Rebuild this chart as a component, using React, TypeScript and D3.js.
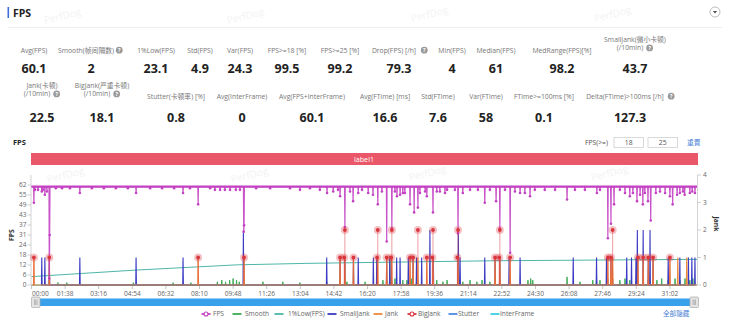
import React from "react";
import * as d3 from "d3";

// ---------------- DATA ----------------
const T_END = 1941; // seconds shown on the axis
const FPS_BASE = 61;

const xTickLabels = ["00:00","01:38","03:16","04:54","06:32","08:10","09:48","11:26","13:04","14:42","16:20","17:58","19:36","21:14","22:52","24:30","26:08","27:46","29:24","31:02"];
const fpsTickLabels = ["0","6","12","18","24","31","37","43","49","55","62"];
const fpsTickStep = 6.2;
const fpsAxisMax = 68.2;
const jankTickLabels = ["0","1","2","3","4"];

// major FPS drops [sec, fps]
const fpsDips: [number, number][] = [
  [7,51],[30,58],[39,56],[52,4],[53,31],[141,57],[305,57],[442,57],[486,50],[619,33],[620,37],
  [862,57],[900,55],[914,36],[938,52],[996,56],[1010,50],[1036,27],[1051,35],[1066,55],[1083,57],
  [1104,50],[1116,45],[1127,48],[1153,55],[1171,45],[1206,57],[1244,32],[1258,57],[1322,51],
  [1355,52],[1366,35],[1396,20],[1425,57],[1454,55],[1562,53],[1649,57],[1681,29],[1690,38],
  [1699,50],[1745,55],[1766,52],[1783,50],[1798,52],[1806,40],[1862,55],[1870,50],[1905,56],[1920,57]
];
// small FPS wobbles near the top
const fpsMinor: [number, number][] = [
  [10,59],[19,59],[33,59],[45,58],[71,60],[89,60],[112,60],[176,60],[211,60],[246,60],[281,60],
  [346,60],[381,60],[416,60],[462,60],[521,60],[535,59],[550,59],[564,59],[579,59],[596,59],[608,59],
  [655,60],[696,60],[754,60],[783,59],[812,60],[841,59],[880,58],[894,59],[929,58],[953,57],[964,59],
  [982,57],[1022,58],[1060,58],[1075,56],[1089,57],[1133,57],[1148,58],[1182,58],[1191,58],[1212,59],
  [1235,59],[1279,59],[1302,59],[1337,59],[1381,59],[1410,58],[1439,57],[1468,59],[1497,59],[1527,59],
  [1585,59],[1614,59],[1658,59],[1716,59],[1731,57],[1754,57],[1775,56],[1789,57],[1821,57],[1833,58],
  [1848,57],[1883,56],[1891,57],[1900,58],[1927,58],[1935,57]
];
const lowOnePct: [number, number][] = [
  [0,5.2],[150,7.2],[308,9.3],[491,11.3],[600,12.5],[800,13.4],[1000,14.0],[1337,15.0],[1600,15.4],[1941,15.9]
];
const smallJank: [number, number][] = [
  [30,1],[39,1],[52,1],[141,1],[305,1],[442,1],[618,2],[861,1],[900,1],[914,1],[939,1],[953,1],[997,1],
  [1007,1],[1036,1],[1045,1],[1065,1],[1075,1],[1099,1],[1113,1],[1123,1],[1138,1],[1162,2],[1172,1],
  [1245,2],[1250,1],[1322,1],[1352,1],[1366,1],[1393,1],[1425,1],[1580,1],[1648,1],[1677,1],[1690,1],
  [1736,1],[1750,1],[1763,1],[1767,2],[1784,2],[1799,1],[1804,2],[1813,1],[1857,1],[1891,1],[1916,1],
  [1926,1],[1935,1]
];
const jank: [number, number][] = [
  [7,1],[52,1],[486,1],[620,1],[900,1],[914,1],[939,1],[1010,1],[1036,1],[1051,1],[1104,1],[1113,1],
  [1127,1],[1153,1],[1171,1],[1244,1],[1352,1],[1366,1],[1396,1],[1681,1],[1690,1],[1695,1],[1769,1],
  [1784,1],[1799,1],[1813,1],[1862,1],[1885,1],[1911,1]
];
const bigJank: [number, number][] = [
  [7,1],[52,1],[486,1],[620,1],[900,1],[912,1],[914,2],[939,1],[1008,1],[1010,2],[1036,1],[1049,1],
  [1051,2],[1104,1],[1113,1],[1127,2],[1153,1],[1169,1],[1171,2],[1242,1],[1244,2],[1352,1],[1364,1],
  [1366,2],[1396,1],[1681,1],[1690,1],[1695,2],[1769,1],[1784,1],[1799,1],[1813,1],[1862,1]
];
const smooth: [number, number][] = [
  [77,1.5],[103,1.5],[297,1.5],[413,1.5],[465,1.5],[542,2],[555,3],[566,2],[578,3],[588,4],[598,3],[606,2],
  [675,2],[733,2],[783,1.5],[861,2],[900,3],[920,2],[973,2],[1007,3],[1025,3],[1045,18],[1060,4],
  [1083,3],[1095,3],[1109,4],[1123,3],[1182,3],[1200,2],[1212,3],[1258,2],[1279,3],[1299,2],[1314,3],
  [1337,2],[1448,3],[1456,4],[1462,3],[1562,5],[1600,2],[1637,3],[1648,4],[1658,3],[1716,3],[1731,4],
  [1745,3],[1824,3],[1838,4],[1857,3],[1877,4],[1891,3],[1906,4],[1920,3],[1929,4]
];
const stutter: [number, number][] = [
  [52,3],[620,4],[914,3],[1036,3],[1051,3],[1104,3],[1113,3],[1127,3],[1171,3],[1244,4],[1366,4],
  [1396,3],[1681,4],[1690,5],[1695,4],[1784,3],[1799,3],[1813,3]
];
const interFrame: [number, number][] = [[0,0],[1941,0]];

const statLabels1: string[][] = [["Avg(FPS)"],["Smooth(帧间隔数)"],["1%Low(FPS)"],["Std(FPS)"],["Var(FPS)"],["FPS>=18 [%]"],["FPS>=25 [%]"],["Drop(FPS) [/h]"],["Min(FPS)"],["Median(FPS)"],["MedRange(FPS)[%]"],["SmallJank(微小卡顿)","(/10min)"]];
const statValues1 = ["60.1","2","23.1","4.9","24.3","99.5","99.2","79.3","4","61","98.2","43.7"];
const statHelp1 = [false,true,false,false,false,false,false,true,false,false,false,true];
const statLabels2: string[][] = [["Jank(卡顿)","(/10min)"],["BigJank(严重卡顿)","(/10min)"],["Stutter(卡顿率) [%]"],["Avg(InterFrame)"],["Avg(FPS+InterFrame)"],["Avg(FTime) [ms]"],["Std(FTime)"],["Var(FTime)"],["FTime>=100ms [%]"],["Delta(FTime)>100ms [/h]"]];
const statValues2 = ["22.5","18.1","0.8","0","60.1","16.6","7.6","58","0.1","127.3"];
const statHelp2 = [true,true,false,false,false,false,false,false,false,true];

const legendNames = ["FPS","Smooth","1%Low(FPS)","SmallJank","Jank","BigJank","Stutter","InterFrame"];
const thresholdValues = ["18","25"];

// ---------------- LAYOUT / STYLE ----------------
const W = 730, H = 321;
const PL = 31.5, PR = 697, PT = 175, PB = 285;
const statX1 = [34, 91, 156, 200, 240, 287, 340, 399, 452, 496, 562, 635];
const statX2 = [42, 102, 176, 242, 312, 385, 438, 486, 544, 630];
const legendIconX = [206, 237, 279, 332, 378, 412, 453, 495];
const legendTextX = [213, 245, 288, 340, 385, 418, 458, 500];
const C = {
  fps: "#c341c3", smooth: "#3daa55", low: "#4db6a8", small: "#3b3bc4",
  jank: "#ef8a3c", big: "#d9363e", stutter: "#4a8ae8", inter: "#3ccfe0",
};
const legendColors = [C.fps, C.smooth, C.low, C.small, C.jank, C.big, C.stutter, C.inter];
const FONT = "'Open Sans', 'Noto Sans CJK SC', sans-serif";

const x = d3.scaleLinear().domain([0, T_END]).range([PL, PR]);
const yL = d3.scaleLinear().domain([0, fpsAxisMax]).range([PB, PT]);
const yR = d3.scaleLinear().domain([0, 4]).range([PB, PT]);

function spikes(events: [number, number][], withBase: boolean): [number, number][] {
  const s = events.slice().sort((a, b) => a[0] - b[0]);
  const pts: [number, number][] = [];
  if (withBase) pts.push([0, 0]);
  s.forEach(([t, v]) => { pts.push([t - 1, 0], [t, v], [t + 1, 0]); });
  if (withBase) pts.push([T_END, 0]);
  return pts;
}

function fpsSeries(): [number, number][] {
  const m = new Map<number, number>();
  fpsMinor.forEach(([t, v]) => m.set(t, v));
  fpsDips.forEach(([t, v]) => m.set(t, v));
  const ts = Array.from(m.keys()).sort((a, b) => a - b);
  const pts: [number, number][] = [[0, FPS_BASE]];
  ts.forEach((t) => {
    if (!m.has(t - 1)) pts.push([t - 1, FPS_BASE]);
    pts.push([t, m.get(t)!]);
    if (!m.has(t + 1)) pts.push([t + 1, FPS_BASE]);
  });
  pts.push([T_END, FPS_BASE]);
  return pts;
}

const parseSec = (s: string) => { const [m, ss] = s.split(":").map(Number); return m * 60 + ss; };
const textW = (s: string, fs: number) =>
  Array.from(s).reduce((w, ch) => w + (/[\u3000-\u9fff]/.test(ch) ? fs : fs * 0.52), 0);

function Help({ cx, cy }: { cx: number; cy: number }) {
  return (
    <g>
      <circle cx={cx} cy={cy} r={3.4} fill="#9a9a9a" />
      <text x={cx} y={cy + 2} fontSize={5.3} fill="#fff" textAnchor="middle" fontWeight={700}>?</text>
    </g>
  );
}

function StatRow({ labels, values, help, xs, labelBase, valueBase }: any) {
  const fs = 6.8;
  return (
    <g>
      {labels.map((lines: string[], i: number) => {
        const cx = xs[i];
        const two = lines.length > 1;
        return (
          <g key={i}>
            {lines.map((ln: string, j: number) => {
              const isLast = j === lines.length - 1;
              const hasHelp = help[i] && isLast;
              const y = two ? labelBase - 10.5 + j * 8.2 : labelBase;
              const w = textW(ln, fs);
              const shift = hasHelp ? -5 : 0;
              return (
                <g key={j}>
                  <text x={cx + shift} y={y} fontSize={fs} fill="#777" textAnchor="middle">{ln}</text>
                  {hasHelp && <Help cx={cx + shift + w / 2 + 5.5} cy={y - 2.3} />}
                </g>
              );
            })}
            <text x={cx} y={valueBase} fontSize={12.5} fontWeight={700} fill="#222" textAnchor="middle">{values[i]}</text>
          </g>
        );
      })}
    </g>
  );
}

export default function App() {
  const pathL = (pts: [number, number][]) => d3.line<[number, number]>().x((d) => x(d[0])).y((d) => yL(d[1]))(pts) || "";
  const pathR = (pts: [number, number][]) => d3.line<[number, number]>().x((d) => x(d[0])).y((d) => yR(d[1]))(pts) || "";
  const fpsPts = fpsSeries();
  const markerPts = [...fpsDips, ...fpsMinor];
  const xTicks = xTickLabels.map(parseSec);
  const watermarks = [[45, 24], [228, 24], [412, 22], [595, 22], [48, 183], [232, 183], [410, 181], [592, 181]];

  return (
    <div style={{ position: "absolute", left: 0, top: 0, width: W, height: H, background: "#fff" }}>
      <svg width={W} height={H} style={{ display: "block", fontFamily: FONT }}>
        <rect width={W} height={H} fill="#fff" />
        {watermarks.map(([wx, wy], i) => (
          <text key={i} x={wx} y={wy} fontSize={10} fill="#f3f3f3" transform={`rotate(-14 ${wx} ${wy})`}>PerfDog</text>
        ))}
        {/* header */}
        <rect x={7.5} y={7} width={1.6} height={11} fill="#3d6fd8" />
        <text x={13} y={16.5} fontSize={10.5} fontWeight={700} fill="#222">FPS</text>
        <line x1={8} x2={722} y1={27.5} y2={27.5} stroke="#eeeeee" />
        <circle cx={715} cy={12} r={5} fill="#fff" stroke="#aaa" strokeWidth={0.8} />
        <path d="M712.8,11 L717.2,11 L715,13.6 Z" fill="#555" />

        <StatRow labels={statLabels1} values={statValues1} help={statHelp1} xs={statX1} labelBase={52.5} valueBase={72.5} />
        <StatRow labels={statLabels2} values={statValues2} help={statHelp2} xs={statX2} labelBase={98.5} valueBase={122} />

        {/* chart header */}
        <text x={13} y={144.5} fontSize={7.5} fontWeight={700} fill="#222">FPS</text>
        <text x={608} y={144.5} fontSize={6.8} fill="#555" textAnchor="end">FPS(&gt;=)</text>
        {thresholdValues.map((v, i) => (
          <g key={v}>
            <rect x={614 + i * 34} y={137.5} width={29.5} height={10} fill="#fff" stroke="#d0d0d0" strokeWidth={0.8} />
            <text x={628.75 + i * 34} y={145} fontSize={6.8} fill="#555" textAnchor="middle">{v}</text>
          </g>
        ))}
        <text x={687} y={145} fontSize={6.8} fill="#4a7fd6">重置</text>
        <rect x={31} y={153} width={667} height={12} fill="#ea5768" />
        <text x={364} y={161.8} fontSize={7.2} fill="#fff" textAnchor="middle">label1</text>

        {/* axes */}
        <line x1={PL - 0.5} x2={PL - 0.5} y1={PT} y2={PB} stroke="#c8c8c8" strokeWidth={0.8} />
        {fpsTickLabels.map((lab, i) => {
          const yy = yL(i * fpsTickStep);
          return (
            <g key={lab}>
              <line x1={PL - 4} x2={PL - 0.5} y1={yy} y2={yy} stroke="#bbb" strokeWidth={0.7} />
              <text x={PL - 5} y={yy + 2.3} fontSize={6.5} fill="#666" textAnchor="end">{lab}</text>
            </g>
          );
        })}
        <text x={13.5} y={235} fontSize={6.8} fontWeight={700} fill="#333" textAnchor="middle" transform="rotate(-90 13.5 235)">FPS</text>
        <line x1={PR + 0.5} x2={PR + 0.5} y1={PT} y2={PB} stroke="#c8c8c8" strokeWidth={0.8} />
        {jankTickLabels.map((lab, i) => {
          const yy = yR(i);
          return (
            <g key={lab}>
              <line x1={PR + 0.5} x2={PR + 4} y1={yy} y2={yy} stroke="#bbb" strokeWidth={0.7} />
              <text x={PR + 6} y={yy + 2.3} fontSize={6.5} fill="#666">{lab}</text>
            </g>
          );
        })}
        <text x={714} y={224} fontSize={6.8} fontWeight={700} fill="#333" textAnchor="middle" transform="rotate(90 714 224)">Jank</text>
        <line x1={PL} x2={PR} y1={PB + 0.5} y2={PB + 0.5} stroke="#aaa" strokeWidth={0.8} />
        {xTicks.map((t, i) => (
          <g key={i}>
            <line x1={x(t)} x2={x(t)} y1={PB + 0.5} y2={PB + 4} stroke="#aaa" strokeWidth={0.7} />
            <text x={i === 0 ? x(t) + 0.5 : x(t)} y={295.5} fontSize={6.6} fill="#666" textAnchor={i === 0 ? "start" : "middle"}>{xTickLabels[i]}</text>
          </g>
        ))}

        {/* series */}
        <path d={pathL(interFrame)} fill="none" stroke={C.inter} strokeWidth={1} />
        <path d={pathL(spikes(stutter, false))} fill="none" stroke={C.stutter} strokeWidth={1.4} opacity={0.8} />
        <path d={pathL(spikes(smooth, false))} fill="none" stroke={C.smooth} strokeWidth={1} />
        <path d={pathL(lowOnePct)} fill="none" stroke={C.low} strokeWidth={1} />
        <path d={pathR(spikes(smallJank, false))} fill="none" stroke={C.small} strokeWidth={1.1} />
        <path d={pathR(spikes(jank, true))} fill="none" stroke={C.jank} strokeWidth={1.2} />
        {bigJank.map(([t, v], i) => (
          <line key={i} x1={x(t)} x2={x(t)} y1={yR(0)} y2={yR(v)} stroke={C.big} strokeWidth={0.8} opacity={0.6} />
        ))}
        <path d={pathL(fpsPts)} fill="none" stroke={C.fps} strokeWidth={1.2} strokeLinejoin="round" opacity={0.9} />
        <line x1={PL} x2={PR} y1={yL(FPS_BASE)} y2={yL(FPS_BASE)} stroke={C.fps} strokeWidth={2.2} />
        {markerPts.map(([t, v], i) => (
          <circle key={i} cx={x(t)} cy={yL(v)} r={1.3} fill={C.fps} />
        ))}
        {bigJank.map(([t, v], i) => (
          <g key={i}>
            <circle cx={x(t)} cy={yR(v)} r={4} fill={C.big} opacity={0.3} />
            <circle cx={x(t)} cy={yR(v)} r={1.9} fill={C.big} />
          </g>
        ))}

        {/* slider */}
        <rect x={34} y={298.5} width={660} height={7.5} fill="#39a0ec" />
        {[31.5, 690].map((hx, i) => (
          <g key={i}>
            <rect x={hx} y={297} width={8.5} height={10.5} rx={1} fill="#e4e4e4" stroke="#aaa" strokeWidth={0.7} />
            <line x1={hx + 3} x2={hx + 3} y1={299.5} y2={305} stroke="#999" strokeWidth={0.6} />
            <line x1={hx + 4.25} x2={hx + 4.25} y1={299.5} y2={305} stroke="#999" strokeWidth={0.6} />
            <line x1={hx + 5.5} x2={hx + 5.5} y1={299.5} y2={305} stroke="#999" strokeWidth={0.6} />
          </g>
        ))}

        {/* legend */}
        {legendNames.map((n, i) => (
          <g key={n}>
            <line x1={legendIconX[i] - 4.5} x2={legendIconX[i] + 4.5} y1={314} y2={314} stroke={legendColors[i]} strokeWidth={1.8} />
            {(i === 0 || i === 5) && <circle cx={legendIconX[i]} cy={314} r={2} fill="#fff" stroke={legendColors[i]} strokeWidth={1.1} />}
            <text x={legendTextX[i]} y={316.3} fontSize={6.6} fill="#666">{n}</text>
          </g>
        ))}
        <text x={663} y={316.3} fontSize={6.6} fill="#4a7fd6">全部隐藏</text>
      </svg>
    </div>
  );
}
